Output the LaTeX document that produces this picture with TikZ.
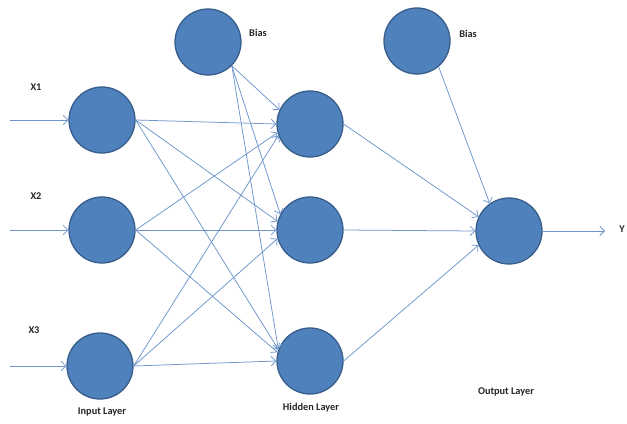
\documentclass[tikz,border=0pt]{standalone}
\usepackage{fontspec}
\setmainfont{Carlito}
\usepackage{xcolor}
\usepackage{tikz}
\usetikzlibrary{arrows.meta}
\definecolor{nodeblue}{RGB}{79,129,189}
\definecolor{nodeedge}{RGB}{56,93,138}
\definecolor{linkblue}{RGB}{110,150,205}
\tikzstyle{neuron} = [circle, minimum size=1.98cm, inner sep=0pt, draw=nodeedge, line width=1.1pt, fill=nodeblue]
\tikzstyle{label} = [font=\fontsize{8.8}{10}\selectfont\bfseries, text=black!85]
\tikzstyle{arrow} = [-{Straight Barb[length=4pt,width=8pt]}, draw=linkblue, line width=0.65pt]

\begin{document}
\begin{tikzpicture}[x=0.03cm, y=-0.03cm]
        \useasboundingbox (0,0) rectangle (627,423);
        % input layer
        \node (in1) [neuron] at (102,120) {};
        \node (in2) [neuron] at (102,230) {};
        \node (in3) [neuron] at (100,366) {};
        % hidden layer
        \node (hid1) [neuron] at (310,124) {};
        \node (hid2) [neuron] at (310,230) {};
        \node (hid3) [neuron] at (310,361) {};
        % bias nodes and output
        \node (bias1) [neuron] at (208,42) {};
        \node (bias2) [neuron] at (417,41) {};
        \node (out) [neuron] at (509,231) {};
        % labels
        \node (x1) [label] at (36,87) {X1};
        \node (x2) [label] at (36,196) {X2};
        \node (x3) [label] at (34,330) {X3};
        \node (b1lab) [label] at (258,33) {Bias};
        \node (b2lab) [label] at (468,34) {Bias};
        \node (ylab) [label] at (622,229) {Y};
        \node (inlab) [label] at (102,412) {Input Layer};
        \node (hidlab) [label] at (311,408) {Hidden Layer};
        \node (outlab) [label] at (506,392) {Output Layer};
        \coordinate (x1in) at (10,120);
        \coordinate (x2in) at (10,230);
        \coordinate (x3in) at (10,366);
        \coordinate (yend) at (605,231);
        % inputs
        \draw [arrow] (x1in) -- (in1.west);
        \draw [arrow] (x2in) -- (in2.west);
        \draw [arrow] (x3in) -- (in3.west);
        % input to hidden
        \draw [arrow] (in1.east) -- (hid1.west);
        \draw [arrow] (in1.east) -- (hid2.165);
        \draw [arrow] (in1.east) -- (hid3.160);
        \draw [arrow] (in2.east) -- (hid1.195);
        \draw [arrow] (in2.east) -- (hid2.west);
        \draw [arrow] (in2.east) -- (hid3.165);
        \draw [arrow] (in3.east) -- (hid1.200);
        \draw [arrow] (in3.east) -- (hid2.195);
        \draw [arrow] (in3.east) -- (hid3.west);
        % bias to hidden
        \draw [arrow] (bias1.-45) -- (hid1.155);
        \draw [arrow] (bias1.-45) -- (hid2.152);
        \draw [arrow] (bias1.-45) -- (hid3.160);
        % hidden to output
        \draw [arrow] (hid1.east) -- (out.155);
        \draw [arrow] (hid2.east) -- (out.west);
        \draw [arrow] (hid3.east) -- (out.205);
        \draw [arrow] (bias2.-50) -- (out.125);
        \draw [arrow] (out.east) -- (yend);
    \end{tikzpicture}
\end{document}
